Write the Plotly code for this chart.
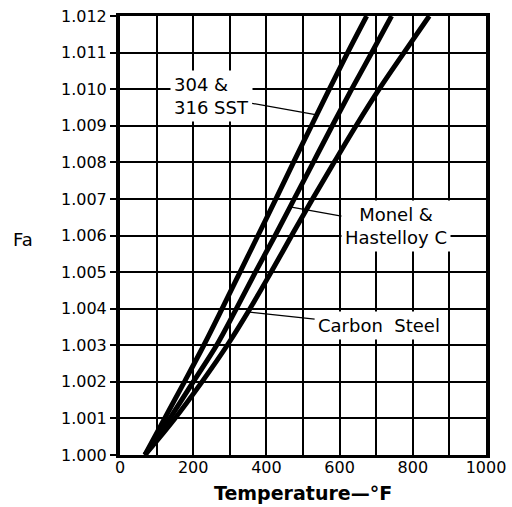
import numpy as np
import plotly.graph_objects as go

# Fa levels (y) and temperatures (°F) where each curve crosses them
fa_levels = [1.000, 1.001, 1.002, 1.003, 1.004, 1.005, 1.006, 1.007, 1.008, 1.009, 1.010, 1.011, 1.012]
sst_temps = [68, 122, 176, 229, 279, 328, 377, 426, 474, 523, 572, 622, 674]
monel_temps = [68, 136, 200, 264, 318, 370, 424, 476, 528, 580, 633, 688, 742]
carbon_temps = [68, 150, 224, 293, 355, 413, 469, 526, 585, 645, 708, 776, 845]

x_ticks = [0, 200, 400, 600, 800, 1000]
y_ticks = [1.000 + 0.001 * i for i in range(13)]
y_ticktext = ["1.%03d" % i for i in range(13)]

FONT = "DejaVu Sans"

fig = go.Figure()
for temps in (sst_temps, monel_temps, carbon_temps):
    fig.add_trace(go.Scatter(x=temps, y=fa_levels, mode="lines",
                             line=dict(color="black", width=5, shape="spline", smoothing=1.0),
                             showlegend=False, hoverinfo="skip"))

def on_curve(fa, temps):
    return float(np.interp(fa, fa_levels, temps)), fa

labels = [
    ("304 &<br>316 SST", sst_temps, 1.0093, 249, 1.00981, "left"),
    ("Monel &<br>Hastelloy C", monel_temps, 1.00678, 754, 1.00626, "center"),
    ("Carbon\u00a0\u00a0Steel", carbon_temps, 1.00391, 708, 1.00353, "center"),
]
for text, temps, fa, tx, ty, al in labels:
    px, py = on_curve(fa, temps)
    fig.add_annotation(x=px, y=py, ax=tx, ay=ty, axref="x", ayref="y", xref="x", yref="y",
                       text=text, showarrow=True, arrowhead=0, arrowwidth=1.3, arrowcolor="black",
                       standoff=0, bgcolor="white", borderpad=3, align=al,
                       font=dict(family=FONT, size=18, color="black"))

fig.add_annotation(xref="paper", yref="paper", x=-0.265, y=0.49, text="Fa", showarrow=False,
                   font=dict(family=FONT, size=18, color="black"), xanchor="center", yanchor="middle")
fig.add_annotation(xref="paper", yref="paper", x=0.5, y=-0.086, text="Temperature\u2014°F", showarrow=False,
                   font=dict(family=FONT, size=19, color="black", weight="bold"),
                   xanchor="center", yanchor="middle")

fig.update_xaxes(range=[0, 1000], tickvals=x_ticks, ticktext=[str(v) for v in x_ticks],
                 showgrid=True, gridcolor="black", gridwidth=2,
                 minor=dict(dtick=100, tick0=0, showgrid=True, gridcolor="black", gridwidth=2),
                 showline=True, linecolor="black", linewidth=3, mirror=True,
                 ticks="", zeroline=False, automargin=False, ticklabelstandoff=-4,
                 tickfont=dict(family=FONT, size=16, color="black"))
fig.update_yaxes(range=[1.0, 1.012], tickvals=y_ticks, ticktext=y_ticktext,
                 showgrid=True, gridcolor="black", gridwidth=2,
                 showline=True, linecolor="black", linewidth=4, mirror=True,
                 ticks="outside", ticklen=6, tickwidth=2, tickcolor="black", zeroline=False,
                 automargin=False,
                 tickfont=dict(family=FONT, size=16, color="black"))

fig.update_layout(width=512, height=507, margin=dict(l=120, r=26, t=16, b=52, autoexpand=False),
                  plot_bgcolor="white", paper_bgcolor="white", showlegend=False)

fig.write_html("out.html", config={"displayModeBar": False},
               post_script="document.body.style.margin='0';")
